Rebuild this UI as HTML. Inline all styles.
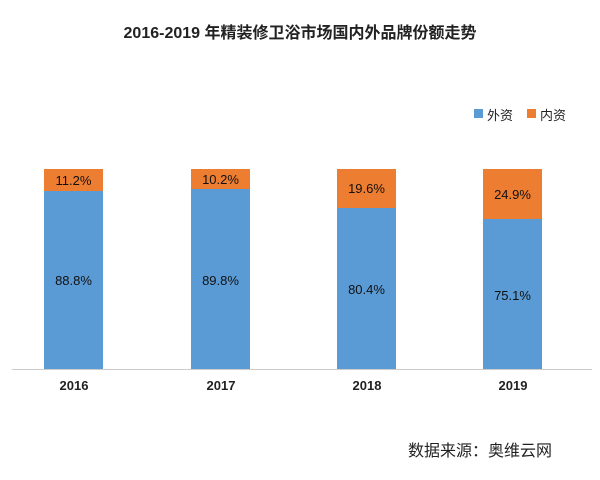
<!DOCTYPE html>
<html><head><meta charset="utf-8"><style>
body{margin:0;width:600px;height:480px;background:#fff;position:relative;overflow:hidden;font-family:"Liberation Sans","Noto Sans CJK SC",sans-serif;}
.a{position:absolute;}
.bar{position:absolute;width:59px;}
.b{background:#5b9bd5;}
.o{background:#ed7d31;}
.l{position:absolute;width:59px;text-align:center;font-size:13px;color:#111;}
.y{position:absolute;width:80px;text-align:center;font-size:13px;font-weight:bold;color:#222;top:378px;}
</style></head><body>
<div class="a" style="left:0;width:600px;top:19px;text-align:center;font-size:16px;font-weight:bold;color:#222">2016-2019 年精装修卫浴市场国内外品牌份额走势</div>
<div class="a" style="left:474px;top:109px;width:9px;height:9px;background:#5b9bd5"></div>
<div class="a" style="left:487px;top:105px;font-size:13px;color:#222">外资</div>
<div class="a" style="left:527px;top:109px;width:9px;height:9px;background:#ed7d31"></div>
<div class="a" style="left:540px;top:105px;font-size:13px;color:#222">内资</div>

<div class="bar o" style="left:44px;top:169px;height:22px"></div>
<div class="bar b" style="left:44px;top:191px;height:179px"></div>
<div class="l" style="left:44px;top:173px">11.2%</div>
<div class="l" style="left:44px;top:273px">88.8%</div>

<div class="bar o" style="left:191px;top:169px;height:20px"></div>
<div class="bar b" style="left:191px;top:189px;height:181px"></div>
<div class="l" style="left:191px;top:172px">10.2%</div>
<div class="l" style="left:191px;top:273px">89.8%</div>

<div class="bar o" style="left:337px;top:169px;height:39px"></div>
<div class="bar b" style="left:337px;top:208px;height:162px"></div>
<div class="l" style="left:337px;top:181px">19.6%</div>
<div class="l" style="left:337px;top:282px">80.4%</div>

<div class="bar o" style="left:483px;top:169px;height:50px"></div>
<div class="bar b" style="left:483px;top:219px;height:151px"></div>
<div class="l" style="left:483px;top:187px">24.9%</div>
<div class="l" style="left:483px;top:288px">75.1%</div>

<div class="a" style="left:12px;top:369px;width:580px;height:1px;background:#ccc"></div>
<div class="y" style="left:34px">2016</div>
<div class="y" style="left:181px">2017</div>
<div class="y" style="left:327px">2018</div>
<div class="y" style="left:473px">2019</div>
<div class="a" style="left:408px;top:437px;font-size:16px;color:#222">数据来源：奥维云网</div>
</body></html>
